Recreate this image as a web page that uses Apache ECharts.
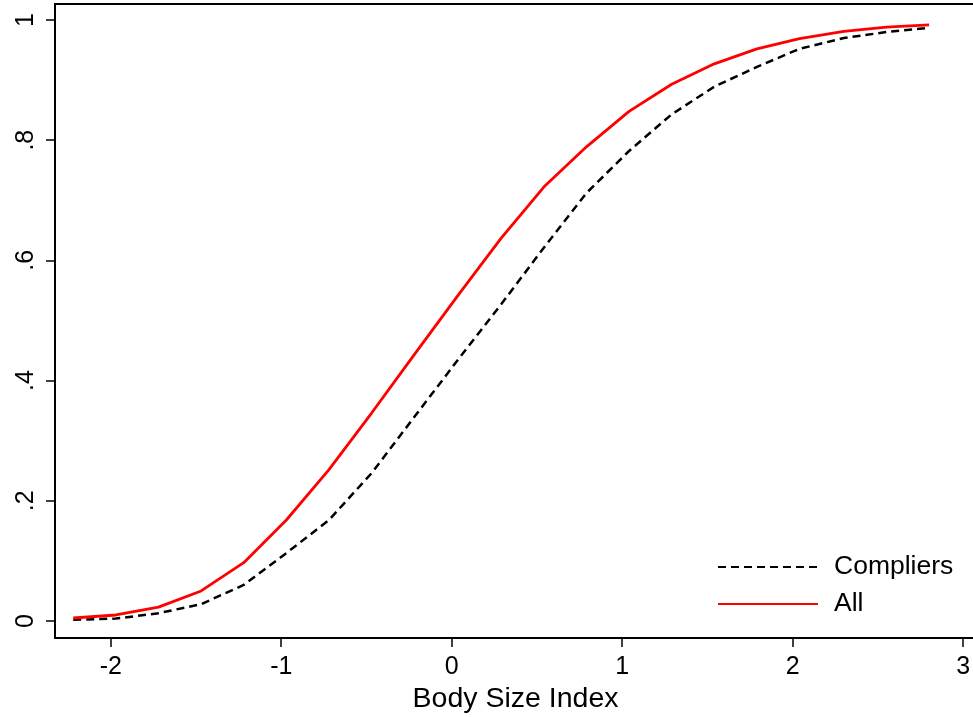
<!DOCTYPE html>
<html>
<head>
<meta charset="utf-8">
<script src="https://cdn.jsdelivr.net/npm/echarts@6/dist/echarts.min.js"></script>
<style>html,body{margin:0;padding:0;background:#fff}#c{width:973px;height:717px}</style>
</head>
<body>
<div id="c"></div>
<script>
const xValues = [-2.22,-1.97,-1.72,-1.47,-1.22,-0.97,-0.72,-0.47,-0.21,0.04,0.29,0.54,0.79,1.04,1.29,1.54,1.79,2.04,2.30,2.55,2.80];
const compliers = [0.002,0.004,0.013,0.028,0.060,0.113,0.168,0.246,0.343,0.436,0.527,0.621,0.712,0.782,0.843,0.889,0.922,0.952,0.970,0.980,0.987];
const allValues = [0.005,0.010,0.023,0.050,0.097,0.168,0.252,0.346,0.447,0.543,0.637,0.722,0.789,0.848,0.893,0.927,0.952,0.969,0.981,0.988,0.992];
const xTicks = [-2,-1,0,1,2,3];
const yTicks = [0,0.2,0.4,0.6,0.8,1];
const yTickLabels = ['0','.2','.4','.6','.8','1'];

const font = 'Liberation Sans, Arial, Helvetica, sans-serif';
const chart = echarts.init(document.getElementById('c'));
chart.setOption({
  animation: false,
  grid: {left: 55, right: -3, top: 4, bottom: 79, containLabel: false, outerBoundsMode: 'none',
    show: true, borderColor: '#000', borderWidth: 2, backgroundColor: '#fff'},
  legend: {
    orient: 'vertical', left: 717, top: 553, padding: 0, itemWidth: 100, itemHeight: 14, itemGap: 9,
    itemStyle: {opacity: 0},
    textStyle: {fontFamily: font, fontSize: 26.5, lineHeight: 28, color: '#000', padding: [0,0,0,11]},
    data: ['Compliers', 'All']
  },
  xAxis: {
    type: 'value', min: -2.327, max: 3.075,
    name: 'Body Size Index', nameLocation: 'middle', nameGap: 46,
    nameTextStyle: {fontFamily: font, fontSize: 28.5, color: '#000'},
    axisLine: {show: true, onZero: false, lineStyle: {color: '#000', width: 2}},
    axisTick: {show: true, length: 9, lineStyle: {color: '#000', width: 1.5}, customValues: xTicks},
    axisLabel: {fontFamily: font, fontSize: 25, color: '#000', margin: 17, customValues: xTicks},
    splitLine: {show: false}
  },
  yAxis: {
    type: 'value', min: -0.0283, max: 1.0266,
    axisLine: {show: true, onZero: false, lineStyle: {color: '#000', width: 2}},
    axisTick: {show: true, length: 9, lineStyle: {color: '#000', width: 1.5}, customValues: yTicks},
    axisLabel: {fontFamily: font, fontSize: 25, color: '#000', margin: 16, rotate: 90, customValues: yTicks,
      formatter: v => { const i = yTicks.findIndex(t => Math.abs(t - v) < 1e-6); return i >= 0 ? yTickLabels[i] : ''; }},
    splitLine: {show: false}
  },
  series: [
    {name: 'Compliers', type: 'line', data: xValues.map((x, i) => [x, compliers[i]]), symbol: 'none',
      lineStyle: {color: '#000', width: 2.5, type: [8, 5]}, itemStyle: {color: '#000'}},
    {name: 'All', type: 'line', data: xValues.map((x, i) => [x, allValues[i]]), symbol: 'none',
      lineStyle: {color: '#ff0000', width: 2.8}, itemStyle: {color: '#ff0000'}}
  ]
});
</script>
</body>
</html>
